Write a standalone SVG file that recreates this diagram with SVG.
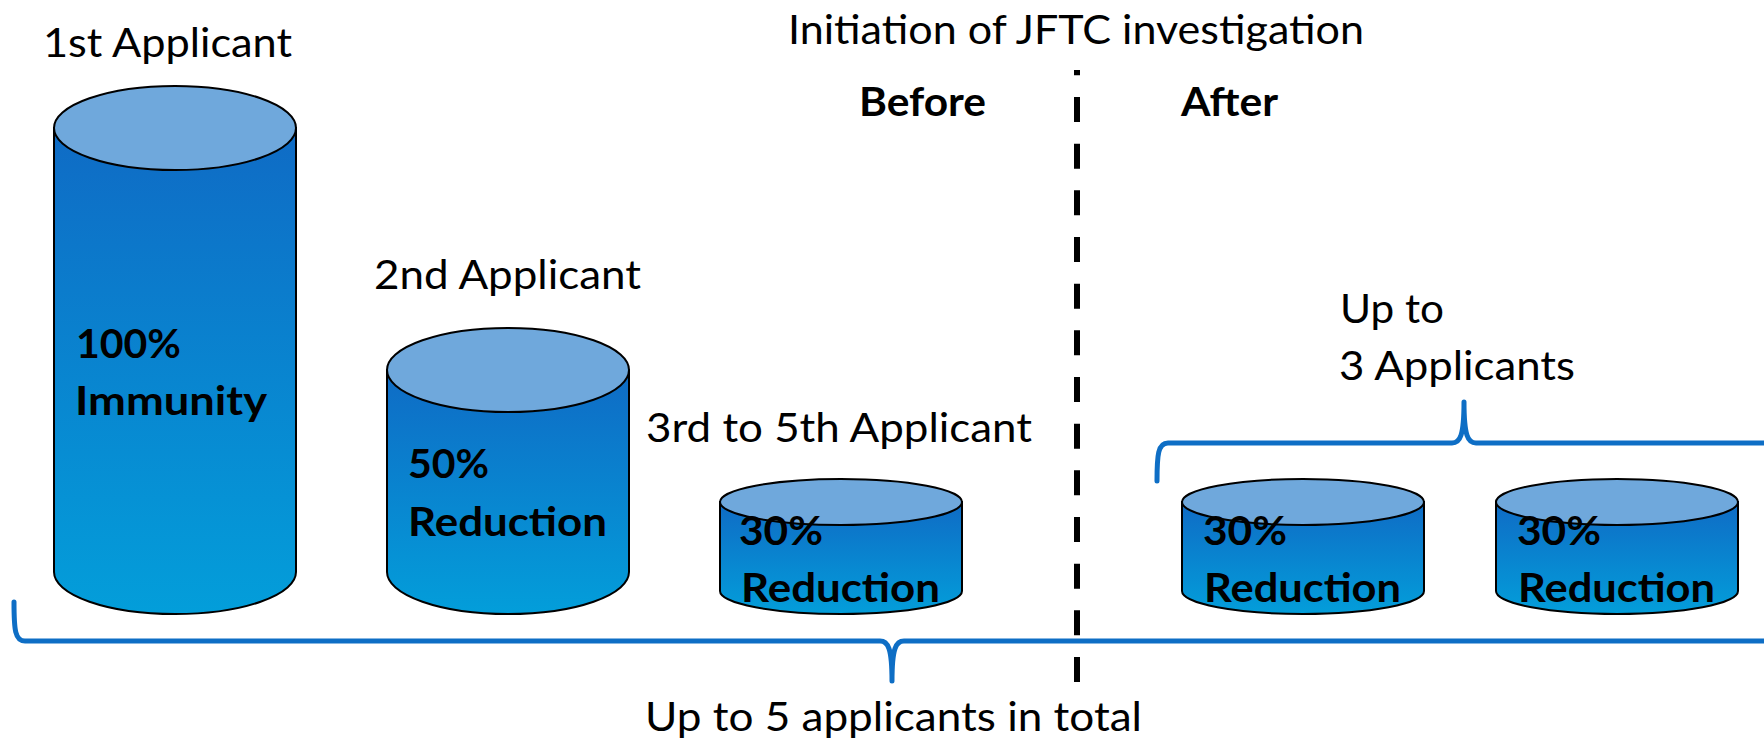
<svg xmlns="http://www.w3.org/2000/svg" width="1764" height="741" viewBox="0 0 1764 741">
<style>
  .lbl { font-family: Lato, "Open Sans", "Liberation Sans", sans-serif; font-size: 41px; fill: #000; }
  .b { font-weight: bold; }
  .body { fill: url(#bodyGrad); stroke: #000; stroke-width: 2; }
  .top { fill: #6FA8DC; stroke: #000; stroke-width: 2; }
  .brace { fill: none; stroke: #0E6EC5; stroke-width: 5; stroke-linecap: round; stroke-linejoin: round; }
  .divider { fill: none; stroke: #000; stroke-width: 6; stroke-dasharray: 25 21.67; stroke-dashoffset: 19.67; }
</style>
<defs>
  <linearGradient id="bodyGrad" x1="0" y1="0" x2="0" y2="1">
    <stop offset="0" stop-color="#0F6BC5"/>
    <stop offset="1" stop-color="#039EDA"/>
  </linearGradient>
</defs>
<rect width="1764" height="741" fill="#fff"/>

<g id="connectors">
  <path class="divider" d="M1077,70 V682"/>
  <path class="brace" d="M14,602 C14,630 15,641 25,641 L880,641 C888,641 892,648 892,681 C892,648 896,641 904,641 L1780,641"/>
  <path class="brace" d="M1157,481 C1157,455 1158,443 1168,443 L1452,443 C1460,443 1464,436 1464,402 C1464,436 1468,443 1476,443 L1780,443"/>
</g>

<g id="cyl1">
  <path class="body" d="M54,128 V572 A121,42 0 0 0 296,572 V128 Z"/>
  <ellipse class="top" cx="175" cy="128" rx="121" ry="42"/>
  <text class="lbl b" x="76" y="358" textLength="105" lengthAdjust="spacingAndGlyphs">100%</text>
  <text class="lbl b" x="75" y="415" textLength="192" lengthAdjust="spacingAndGlyphs">Immunity</text>
</g>
<g id="cyl2">
  <path class="body" d="M387,370 V572 A121,42 0 0 0 629,572 V370 Z"/>
  <ellipse class="top" cx="508" cy="370" rx="121" ry="42"/>
  <text class="lbl b" x="408" y="478" textLength="81" lengthAdjust="spacingAndGlyphs">50%</text>
  <text class="lbl b" x="408" y="536" textLength="199" lengthAdjust="spacingAndGlyphs">Reduction</text>
</g>
<g id="cyl3">
  <path class="body" d="M720,502 V591 A121,23 0 0 0 962,591 V502 Z"/>
  <ellipse class="top" cx="841" cy="502" rx="121" ry="23"/>
  <text class="lbl b" x="739" y="545" textLength="84" lengthAdjust="spacingAndGlyphs">30%</text>
  <text class="lbl b" x="741" y="602" textLength="199" lengthAdjust="spacingAndGlyphs">Reduction</text>
</g>
<g id="cyl4">
  <path class="body" d="M1182,502 V591 A121,23 0 0 0 1424,591 V502 Z"/>
  <ellipse class="top" cx="1303" cy="502" rx="121" ry="23"/>
  <text class="lbl b" x="1203" y="545" textLength="84" lengthAdjust="spacingAndGlyphs">30%</text>
  <text class="lbl b" x="1204" y="602" textLength="197" lengthAdjust="spacingAndGlyphs">Reduction</text>
</g>
<g id="cyl5">
  <path class="body" d="M1496,502 V591 A121,23 0 0 0 1738,591 V502 Z"/>
  <ellipse class="top" cx="1617" cy="502" rx="121" ry="23"/>
  <text class="lbl b" x="1517" y="545" textLength="84" lengthAdjust="spacingAndGlyphs">30%</text>
  <text class="lbl b" x="1518" y="602" textLength="197" lengthAdjust="spacingAndGlyphs">Reduction</text>
</g>

<g id="labels">
  <text class="lbl" x="43" y="57" textLength="249" lengthAdjust="spacingAndGlyphs">1st Applicant</text>
  <text class="lbl" x="788" y="44" textLength="576" lengthAdjust="spacingAndGlyphs">Initiation of JFTC investigation</text>
  <text class="lbl b" x="859" y="116" textLength="127" lengthAdjust="spacingAndGlyphs">Before</text>
  <text class="lbl b" x="1181" y="116" textLength="97" lengthAdjust="spacingAndGlyphs">After</text>
  <text class="lbl" x="374" y="289" textLength="267" lengthAdjust="spacingAndGlyphs">2nd Applicant</text>
  <text class="lbl" x="646" y="442" textLength="386" lengthAdjust="spacingAndGlyphs">3rd to 5th Applicant</text>
  <text class="lbl" x="1340" y="323" textLength="104" lengthAdjust="spacingAndGlyphs">Up to</text>
  <text class="lbl" x="1339" y="380" textLength="236" lengthAdjust="spacingAndGlyphs">3 Applicants</text>
  <text class="lbl" x="645" y="731" textLength="497" lengthAdjust="spacingAndGlyphs">Up to 5 applicants in total</text>
</g>
</svg>
